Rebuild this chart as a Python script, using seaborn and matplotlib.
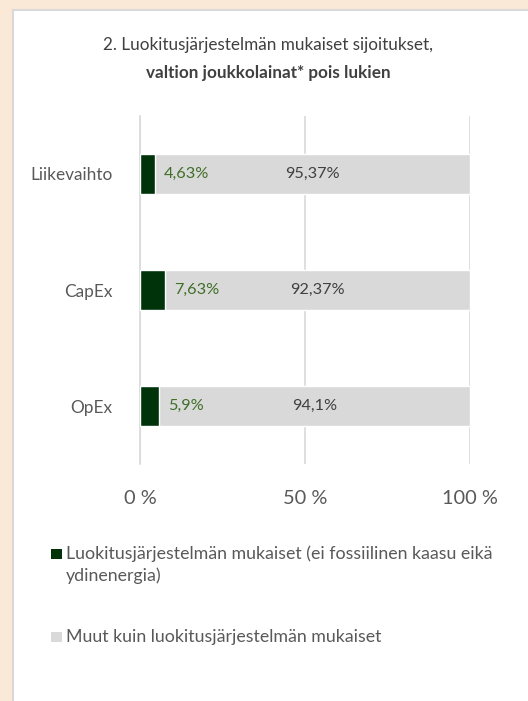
import pandas as pd
import seaborn as sns
import matplotlib.pyplot as plt
from matplotlib.patches import Rectangle

# Data
categories = ["Liikevaihto", "CapEx", "OpEx"]
aligned = [4.63, 7.63, 5.9]
other = [95.37, 92.37, 94.1]
aligned_labels = ["4,63%", "7,63%", "5,9%"]
other_labels = ["95,37%", "92,37%", "94,1%"]
x_ticks = [0, 50, 100]
x_ticklabels = ["0 %", "50 %", "100 %"]

legend_labels = [
    "Luokitusjärjestelmän mukaiset (ei fossiilinen kaasu eikä\nydinenergia)",
    "Muut kuin luokitusjärjestelmän mukaiset",
]

dark_green = "#00330a"
light_gray = "#d9d9d9"
text_gray = "#595959"
label_green = "#3f6e27"

df = pd.DataFrame({
    "category": categories,
    "aligned": aligned,
    "other": other,
})
df["total"] = df["aligned"] + df["other"]

sns.set_style("white")
plt.rcParams["font.family"] = ["Lato", "DejaVu Sans"]

W, H = 528, 701
fig = plt.figure(figsize=(W / 100, H / 100), dpi=100, facecolor="#fbe9d8")

# White card behind everything
fig.patches.append(Rectangle((13 / W, -0.01), 1, 1.01 - 10 / H, transform=fig.transFigure,
                             facecolor="white", edgecolor="#d9d9d9", linewidth=1.5,
                             zorder=-10))

ax = fig.add_axes([140 / W, 1 - 464 / H, 330 / W, (464 - 116) / H])
ax.set_facecolor("none")

# Stacked bars: full total in gray, aligned share in dark green on top
sns.barplot(data=df, x="total", y="category", color=light_gray, width=0.34,
            saturation=1, ax=ax, zorder=2)
sns.barplot(data=df, x="aligned", y="category", color=dark_green, width=0.34,
            saturation=1, ax=ax, zorder=3)

value_texts = []
for i, (a, o) in enumerate(zip(aligned, other)):
    t1 = ax.text(a + 2.7, i, aligned_labels[i], ha="left", va="center",
                 fontsize=10, color=label_green, zorder=4)
    t2 = ax.text(a + o / 2, i, other_labels[i], ha="center", va="center",
                 fontsize=10, color="#404040", zorder=4)
    value_texts += [t1, t2]

ax.set_xlim(0, 100)
ax.set_ylim(2.5, -0.5)
ax.set_xticks(x_ticks)
ax.set_xticklabels(x_ticklabels, fontsize=12, color=text_gray)
ax.tick_params(axis="x", length=0, pad=19)
ax.set_yticks(range(len(categories)))
ax.set_yticklabels(categories, fontsize=12, color=text_gray)
ax.set_yticks([-0.5, 0.5, 1.5, 2.5], minor=True)
ax.tick_params(axis="y", which="major", length=0, pad=20)
ax.tick_params(axis="y", which="minor", length=6, color=light_gray, width=1.2)
ax.set_xlabel("")
ax.set_ylabel("")

ax.grid(axis="x", color=light_gray, linewidth=1.2, zorder=0)
ax.set_axisbelow(True)
for s in ["top", "right", "bottom"]:
    ax.spines[s].set_visible(False)
ax.spines["left"].set_color(light_gray)
ax.spines["left"].set_linewidth(1.2)

# Title
title1 = fig.text(268 / W, 1 - 45 / H, "2. Luokitusjärjestelmän mukaiset sijoitukset,",
                  ha="center", va="center", fontsize=11.5, color="#404040")
title2 = fig.text(268 / W, 1 - 73 / H, "valtion joukkolainat* pois lukien",
                  ha="center", va="center", fontsize=11.5, color="#404040",
                  fontweight="bold")

# Legend
fig.patches.append(Rectangle((51 / W, 1 - 559 / H), 11 / W, 10 / H,
                             transform=fig.transFigure, facecolor=dark_green,
                             edgecolor="none"))
leg1 = fig.text(66 / W, 1 - 555 / H, legend_labels[0], ha="left", va="center",
                fontsize=10, color=text_gray, linespacing=1.45)
fig.patches.append(Rectangle((51 / W, 1 - 642 / H), 11 / W, 10 / H,
                             transform=fig.transFigure, facecolor=light_gray,
                             edgecolor="none"))
leg2 = fig.text(66 / W, 1 - 637 / H, legend_labels[1], ha="left", va="center",
                fontsize=10, color=text_gray)

# Scale font sizes so text widths match the reference (Calibri is narrower than Lato)
fig.canvas.draw()
renderer = fig.canvas.get_renderer()


def scale_for(text, target_px):
    return target_px / text.get_window_extent(renderer).width


s = scale_for(title1, 330)
title1.set_fontsize(title1.get_fontsize() * s)
title2.set_fontsize(title2.get_fontsize() * s)

probe = fig.text(0, 0, legend_labels[0].split("\n")[0], fontsize=10)
s = scale_for(probe, 426)
probe.remove()
leg1.set_fontsize(10 * s)
leg2.set_fontsize(10 * s)
# keep first legend entry's first line centred at y=555
leg1.set_va("top")
leg1.set_y(1 - 545 / H)

s = scale_for(ax.get_yticklabels()[0], 82)
for lab in ax.get_yticklabels():
    lab.set_fontsize(12 * s)

s = scale_for(ax.get_xticklabels()[2], 56)
for lab in ax.get_xticklabels():
    lab.set_fontsize(12 * s)

s = scale_for(value_texts[0], 45)
for t in value_texts:
    t.set_fontsize(10 * s)

fig.savefig("out.png", dpi=100, facecolor=fig.get_facecolor())
